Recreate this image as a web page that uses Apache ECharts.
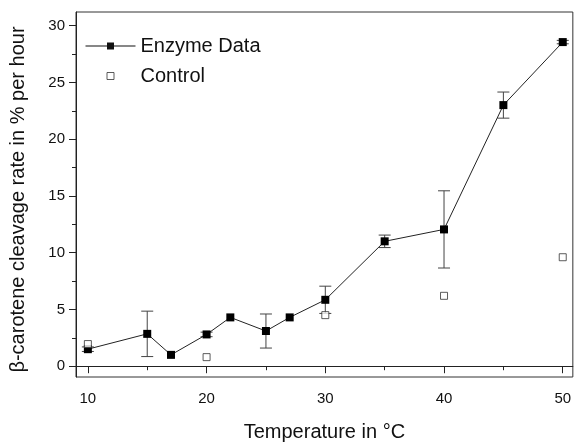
<!DOCTYPE html>
<html>
<head>
<meta charset="utf-8">
<script src="https://cdn.jsdelivr.net/npm/echarts@6/dist/echarts.min.js"></script>
<style>html,body{margin:0;padding:0;background:#fff}#c{width:574px;height:447px}</style>
</head>
<body>
<div id="c"></div>
<script>
var temps = [10, 15, 17, 20, 22, 25, 27, 30, 35, 40, 45, 50];
var enzyme = [1.5, 2.85, 1.0, 2.8, 4.3, 3.1, 4.3, 5.85, 11.0, 12.05, 23.0, 28.55];
var enzymeErr = [0.2, 2.0, 0, 0.2, 0, 1.5, 0, 1.2, 0.55, 3.4, 1.15, 0.15];
var controlTemps = [10, 20, 30, 40, 50];
var control = [1.95, 0.8, 4.5, 6.2, 9.6];
var xMajorTicks = [10, 20, 30, 40, 50];
var xMinorTicks = [15, 25, 35, 45];
var yMajorTicks = [0, 5, 10, 15, 20, 25, 30];
var yMinorTicks = [2.5, 7.5, 12.5, 17.5, 22.5, 27.5];

var chart = echarts.init(document.getElementById('c'));
var font = 'Liberation Sans, Arial, sans-serif';
var enzymePts = temps.map(function (t, i) { return [t, enzyme[i]]; });
var errPts = temps.map(function (t, i) { return [t, enzyme[i] - enzymeErr[i], enzyme[i] + enzymeErr[i]]; })
  .filter(function (d, i) { return enzymeErr[i] > 0; });
var controlPts = controlTemps.map(function (t, i) { return [t, control[i]]; });

var xRange = {min: 9, max: 50.85};
var yRange = {min: -0.95, max: 31.2};
chart.setOption({
  animation: false,
  grid: {left: 72, right: 1, top: 12, bottom: 62, show: true, borderColor: '#333', borderWidth: 1},
  legend: {
    orient: 'vertical', left: 80, top: 31, itemWidth: 50, itemHeight: 14, itemGap: 10,
    textStyle: {fontFamily: font, fontSize: 20, color: '#111'},
    data: [
      {name: 'Enzyme Data', icon: 'path://M0,0 M50,14 M0,6.5 L50,6.5 L50,7.5 L0,7.5 Z M21.5,3.5 L28.5,3.5 L28.5,10.5 L21.5,10.5 Z',
       itemStyle: {color: '#111'}},
      {name: 'Control', icon: 'path://M0,0 M50,14 M21.5,3.5 L28.5,3.5 L28.5,10.5 L21.5,10.5 Z',
       itemStyle: {color: '#fff', borderColor: '#333', borderWidth: 1}}
    ]
  },
  xAxis: [{
    type: 'value', min: xRange.min, max: xRange.max,
    name: 'Temperature in °C', nameLocation: 'middle', nameGap: 45,
    nameTextStyle: {fontFamily: font, fontSize: 20, color: '#111'},
    splitLine: {show: false},
    axisLine: {lineStyle: {color: '#222', width: 1}},
    axisTick: {show: true, length: 7, inside: false, customValues: xMajorTicks, lineStyle: {color: '#222'}},
    axisLabel: {customValues: xMajorTicks, margin: 14, fontFamily: font, fontSize: 15, color: '#111'}
  }, {
    type: 'value', min: xRange.min, max: xRange.max, position: 'bottom',
    splitLine: {show: false}, axisLine: {show: false},
    axisTick: {show: true, length: 4, customValues: xMinorTicks, lineStyle: {color: '#222'}},
    axisLabel: {show: false}
  }],
  yAxis: [{
    type: 'value', min: yRange.min, max: yRange.max,
    name: 'β-carotene cleavage rate in % per hour', nameLocation: 'middle', nameGap: 48,
    nameTextStyle: {fontFamily: font, fontSize: 20, color: '#111', padding: [0, 10, 0, 0]},
    splitLine: {show: false},
    axisLine: {show: true, lineStyle: {color: '#222', width: 1}},
    axisTick: {show: true, length: 7, customValues: yMajorTicks, lineStyle: {color: '#222'}},
    axisLabel: {customValues: yMajorTicks, margin: 11, fontFamily: font, fontSize: 15, color: '#111'}
  }, {
    type: 'value', min: yRange.min, max: yRange.max, position: 'left',
    splitLine: {show: false}, axisLine: {show: false},
    axisTick: {show: true, length: 4, customValues: yMinorTicks, lineStyle: {color: '#222'}},
    axisLabel: {show: false}
  }],
  series: [{
    name: 'Enzyme Data', type: 'line', data: enzymePts,
    symbol: 'rect', symbolSize: 8,
    itemStyle: {color: '#000'},
    lineStyle: {color: '#222', width: 1},
    z: 3
  }, {
    name: 'errors', type: 'custom', data: errPts,
    renderItem: function (params, api) {
      var x = api.value(0);
      var lo = api.coord([x, api.value(1)]);
      var hi = api.coord([x, api.value(2)]);
      var w = 6;
      var st = {stroke: '#444', lineWidth: 1};
      return {type: 'group', children: [
        {type: 'line', shape: {x1: lo[0], y1: lo[1], x2: hi[0], y2: hi[1]}, style: st},
        {type: 'line', shape: {x1: lo[0] - w, y1: lo[1], x2: lo[0] + w, y2: lo[1]}, style: st},
        {type: 'line', shape: {x1: hi[0] - w, y1: hi[1], x2: hi[0] + w, y2: hi[1]}, style: st}
      ]};
    },
    z: 2
  }, {
    name: 'Control', type: 'scatter', data: controlPts,
    symbol: 'rect', symbolSize: 7,
    itemStyle: {color: '#fff', borderColor: '#333', borderWidth: 1},
    z: 4
  }]
});
</script>
</body>
</html>
